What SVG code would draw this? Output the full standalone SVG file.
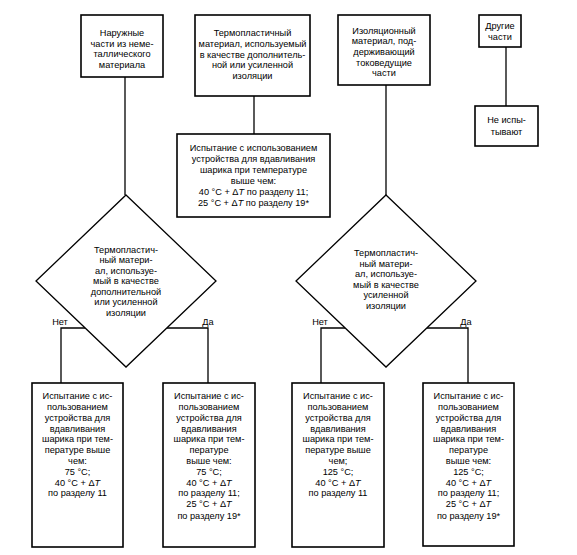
<svg xmlns="http://www.w3.org/2000/svg" width="577" height="555" viewBox="0 0 577 555">
<style>
.box{fill:#fff;stroke:#000;stroke-width:1.6}
.dia{fill:#fff;stroke:#000;stroke-width:1.3}
.ln{fill:none;stroke:#000;stroke-width:1.3}
text{font-family:"Liberation Sans",Arial,sans-serif;font-size:9.2px;fill:#000;text-anchor:middle}
.it{font-style:italic}
</style>
<rect width="577" height="555" fill="#fff"/>
<g id="connectors">
<path class="ln" d="M125 77V195"/>
<path class="ln" d="M254 96V134"/>
<path class="ln" d="M386 85V195"/>
<path class="ln" d="M506 47V106"/>
<path class="ln" d="M85 328H61V383"/>
<path class="ln" d="M167 328H208V383"/>
<path class="ln" d="M345 328H321V383"/>
<path class="ln" d="M427 328H468V383"/>
</g>
<g id="n1">
<rect class="box" x="81" y="15" width="82" height="62"/>
<text x="122" y="36">Наружные</text>
<text x="122" y="46.7">части из неме-</text>
<text x="122" y="57.4">таллического</text>
<text x="122" y="68.1">материала</text>
</g>
<g id="n2">
<rect class="box" x="195" y="15" width="115" height="81"/>
<text x="252.5" y="36">Термопластичный</text>
<text x="252.5" y="47">материал, используемый</text>
<text x="252.5" y="57.5">в качестве дополнитель-</text>
<text x="252.5" y="68">ной или усиленной</text>
<text x="252.5" y="79">изоляции</text>
</g>
<g id="n3">
<rect class="box" x="338" y="15" width="92" height="70"/>
<text x="384" y="33.7">Изоляционный</text>
<text x="384" y="44.3">материал, под-</text>
<text x="384" y="54.9">держивающий</text>
<text x="384" y="65.5">токоведущие</text>
<text x="384" y="76.1">части</text>
</g>
<g id="n4">
<rect class="box" x="479" y="15" width="42" height="32"/>
<text x="500" y="28.5">Другие</text>
<text x="500" y="40">части</text>
</g>
<g id="n5">
<rect class="box" x="475" y="106" width="63" height="40"/>
<text x="506.5" y="123">Не испы-</text>
<text x="506.5" y="135">тывают</text>
</g>
<g id="n6">
<rect class="box" x="177" y="134" width="153" height="83"/>
<text x="253.5" y="151">Испытание с использованием</text>
<text x="253.5" y="162">устройства для вдавливания</text>
<text x="253.5" y="173">шарика при температуре</text>
<text x="253.5" y="184">выше чем:</text>
<text x="253.5" y="195">40 °C + Δ<tspan class="it">T</tspan> по разделу 11;</text>
<text x="253.5" y="206">25 °C + Δ<tspan class="it">T</tspan> по разделу 19*</text>
</g>
<g id="d1">
<polygon class="dia" points="126,195 216,281 126,367 36,281"/>
<text x="126" y="252.7">Термопластич-</text>
<text x="126" y="263.2">ный матери-</text>
<text x="126" y="273.7">ал, используе-</text>
<text x="126" y="284.2">мый в качестве</text>
<text x="126" y="294.7">дополнительной</text>
<text x="126" y="305.2">или усиленной</text>
<text x="126" y="315.7">изоляции</text>
</g>
<g id="d2">
<polygon class="dia" points="386,195 476,281 386,367 296,281"/>
<text x="386" y="256.2">Термопластич-</text>
<text x="386" y="266.7">ный матери-</text>
<text x="386" y="277.2">ал, используе-</text>
<text x="386" y="287.7">мый в качестве</text>
<text x="386" y="298.2">усиленной</text>
<text x="386" y="308.7">изоляции</text>
</g>
<g id="labels">
<text x="60" y="325">Нет</text>
<text x="208" y="325">Да</text>
<text x="320" y="325">Нет</text>
<text x="466" y="325">Да</text>
</g>
<g id="b1">
<rect class="box" x="32" y="383" width="91" height="164"/>
<text x="77.5" y="399.2">Испытание с ис-</text>
<text x="77.5" y="410">пользованием</text>
<text x="77.5" y="420.8">устройства для</text>
<text x="77.5" y="431.6">вдавливания</text>
<text x="77.5" y="442.4">шарика при тем-</text>
<text x="77.5" y="453.2">пературе выше</text>
<text x="77.5" y="464">чем:</text>
<text x="77.5" y="474.8">75 °C;</text>
<text x="77.5" y="485.6">40 °C + Δ<tspan class="it">T</tspan></text>
<text x="77.5" y="496.4">по разделу 11</text>
</g>
<g id="b2">
<rect class="box" x="163" y="383" width="92" height="164"/>
<text x="209" y="399.2">Испытание с ис-</text>
<text x="209" y="410">пользованием</text>
<text x="209" y="420.8">устройства для</text>
<text x="209" y="431.6">вдавливания</text>
<text x="209" y="442.4">шарика при тем-</text>
<text x="209" y="453.2">пературе</text>
<text x="209" y="464">выше чем:</text>
<text x="209" y="474.8">75 °C;</text>
<text x="209" y="485.6">40 °C + Δ<tspan class="it">T</tspan></text>
<text x="209" y="496.4">по разделу 11;</text>
<text x="209" y="507.2">25 °C + Δ<tspan class="it">T</tspan></text>
<text x="209" y="518.5">по разделу 19*</text>
</g>
<g id="b3">
<rect class="box" x="292" y="383" width="92" height="164"/>
<text x="338" y="399.2">Испытание с ис-</text>
<text x="338" y="410">пользованием</text>
<text x="338" y="420.8">устройства для</text>
<text x="338" y="431.6">вдавливания</text>
<text x="338" y="442.4">шарика при тем-</text>
<text x="338" y="453.2">пературе выше</text>
<text x="338" y="464">чем;</text>
<text x="338" y="474.8">125 °C;</text>
<text x="338" y="485.6">40 °C + Δ<tspan class="it">T</tspan></text>
<text x="338" y="496.4">по разделу 11</text>
</g>
<g id="b4">
<rect class="box" x="423" y="383" width="91" height="163"/>
<text x="468.5" y="399.2">Испытание с ис-</text>
<text x="468.5" y="410">пользованием</text>
<text x="468.5" y="420.8">устройства для</text>
<text x="468.5" y="431.6">вдавливания</text>
<text x="468.5" y="442.4">шарика при тем-</text>
<text x="468.5" y="453.2">пературе</text>
<text x="468.5" y="464">выше чем:</text>
<text x="468.5" y="474.8">125 °C;</text>
<text x="468.5" y="485.6">40 °C + Δ<tspan class="it">T</tspan></text>
<text x="468.5" y="496.4">по разделу 11;</text>
<text x="468.5" y="507.2">25 °C + Δ<tspan class="it">T</tspan></text>
<text x="468.5" y="518.5">по разделу 19*</text>
</g>
</svg>
